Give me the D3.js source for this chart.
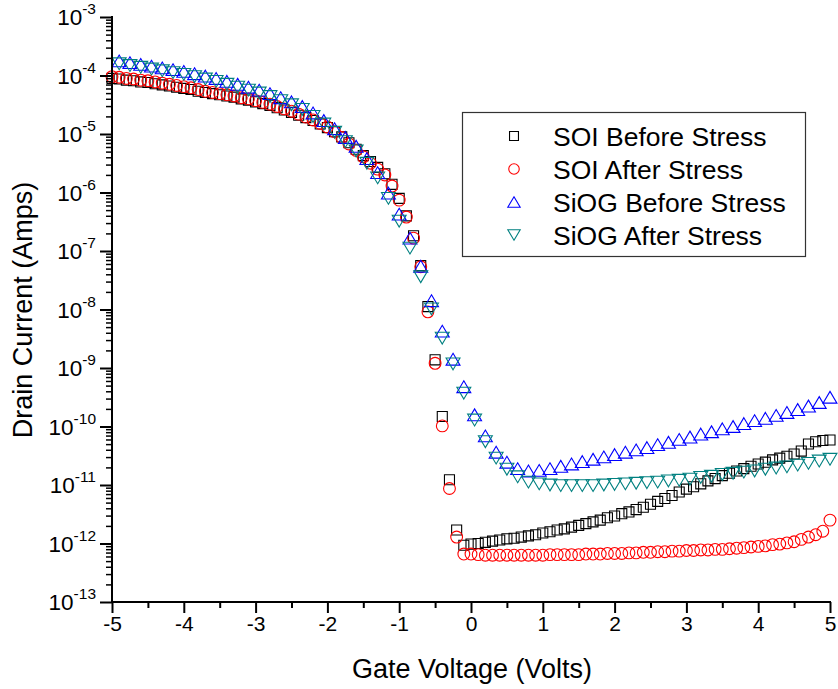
<!DOCTYPE html>
<html>
<head>
<meta charset="utf-8">
<script src="https://cdn.jsdelivr.net/npm/d3@7"></script>
<style>
  body { margin: 0; background: #fff; }
  svg { display: block; font-family: "Liberation Sans", Arial, sans-serif; }
</style>
</head>
<body>
<svg id="chart"></svg>
<script>
// gate sweeps (volts)
const soiVolts = d3.range(101).map(i => -5 + i * 0.1);
const siogVolts = d3.range(67).map(i => -4.9 + i * 0.15);

// drain current as log10(Amps)
const soiBeforeLog = [
  -4.05,-4.06,-4.08,-4.09,-4.11,-4.12,-4.14,-4.16,-4.18,-4.20,
  -4.22,-4.24,-4.27,-4.29,-4.31,-4.33,-4.35,-4.37,-4.40,-4.42,
  -4.45,-4.48,-4.51,-4.55,-4.59,-4.63,-4.68,-4.72,-4.77,-4.83,
  -4.89,-4.96,-5.05,-5.15,-5.26,-5.37,-5.47,-5.57,-5.68,-5.86,
  -6.10,-6.40,-6.74,-7.25,-7.95,-8.86,-9.83,-10.91,-11.77,-12.03,
  -12.01,-12.00,-11.98,-11.96,-11.94,-11.92,-11.91,-11.89,-11.87,-11.85,
  -11.82,-11.80,-11.77,-11.75,-11.72,-11.69,-11.66,-11.63,-11.60,-11.56,
  -11.53,-11.49,-11.46,-11.42,-11.38,-11.33,-11.28,-11.23,-11.18,-11.12,
  -11.07,-11.03,-10.98,-10.93,-10.89,-10.84,-10.80,-10.76,-10.72,-10.68,
  -10.64,-10.61,-10.57,-10.54,-10.51,-10.47,-10.42,-10.30,-10.26,-10.24,
  -10.23
];
const soiAfterLog = [
  -4.02,-4.03,-4.05,-4.06,-4.08,-4.09,-4.11,-4.13,-4.15,-4.17,
  -4.19,-4.21,-4.24,-4.27,-4.29,-4.31,-4.33,-4.35,-4.38,-4.40,
  -4.43,-4.46,-4.49,-4.53,-4.57,-4.61,-4.66,-4.71,-4.76,-4.82,
  -4.88,-4.96,-5.06,-5.17,-5.28,-5.39,-5.50,-5.60,-5.70,-5.89,
  -6.13,-6.42,-6.78,-7.27,-8.04,-8.92,-9.99,-11.06,-11.89,-12.18,
  -12.18,-12.19,-12.20,-12.20,-12.20,-12.20,-12.20,-12.20,-12.20,-12.20,
  -12.20,-12.19,-12.19,-12.19,-12.19,-12.19,-12.18,-12.18,-12.18,-12.17,
  -12.17,-12.17,-12.16,-12.16,-12.15,-12.15,-12.14,-12.14,-12.13,-12.13,
  -12.12,-12.12,-12.11,-12.11,-12.10,-12.10,-12.09,-12.08,-12.07,-12.06,
  -12.05,-12.04,-12.02,-12.01,-11.99,-11.97,-11.93,-11.89,-11.85,-11.79,
  -11.60
];
const siogBeforeLog = [
  -3.75,-3.78,-3.81,-3.84,-3.87,-3.90,-3.93,-3.97,-4.01,-4.05,
  -4.10,-4.15,-4.20,-4.25,-4.31,-4.38,-4.45,-4.53,-4.64,-4.77,
  -4.91,-5.06,-5.21,-5.42,-5.66,-6.01,-6.37,-6.78,-7.26,-7.85,
  -8.37,-8.85,-9.32,-9.80,-10.16,-10.44,-10.61,-10.72,-10.76,-10.75,
  -10.72,-10.68,-10.64,-10.60,-10.56,-10.52,-10.48,-10.44,-10.40,-10.36,
  -10.31,-10.27,-10.22,-10.18,-10.13,-10.09,-10.04,-10.00,-9.95,-9.90,
  -9.86,-9.81,-9.76,-9.71,-9.65,-9.59,-9.50
];
const siogAfterLog = [
  -3.80,-3.83,-3.86,-3.89,-3.92,-3.95,-3.98,-4.02,-4.06,-4.10,
  -4.15,-4.20,-4.25,-4.30,-4.36,-4.43,-4.50,-4.58,-4.70,-4.83,
  -4.97,-5.13,-5.29,-5.50,-5.75,-6.10,-6.49,-6.95,-7.44,-7.99,
  -8.49,-8.93,-9.43,-9.89,-10.26,-10.54,-10.73,-10.86,-10.95,-10.98,
  -11.00,-11.01,-11.01,-11.01,-11.01,-11.00,-10.99,-10.98,-10.97,-10.96,
  -10.95,-10.93,-10.92,-10.90,-10.87,-10.85,-10.82,-10.80,-10.78,-10.76,
  -10.73,-10.71,-10.69,-10.66,-10.63,-10.59,-10.56
];

const seriesNames = ["SOI Before Stress", "SOI After Stress", "SiOG Before Stress", "SiOG After Stress"];
const xTicks = [-5, -4, -3, -2, -1, 0, 1, 2, 3, 4, 5];
const yDecades = [-13, -12, -11, -10, -9, -8, -7, -6, -5, -4, -3];

var pixelWidth = 838;
var pixelHeight = 689;

var svg = d3.select("#chart")
    .attr("width", pixelWidth)
    .attr("height", pixelHeight);

var xScale = d3.scaleLinear().domain([-5, 5]).range([112, 830]);
var yScale = d3.scaleLog().domain([1e-13, 1e-3]).range([602, 17]);

function toPoints(volts, logs) {
    return volts.map((v, i) => ({ x: v, y: Math.pow(10, logs[i]) }));
}

const series = [
    { name: seriesNames[0], shape: "square",  color: "#000000", data: toPoints(soiVolts, soiBeforeLog) },
    { name: seriesNames[1], shape: "circle",  color: "#ff0000", data: toPoints(soiVolts, soiAfterLog) },
    { name: seriesNames[2], shape: "up",      color: "#0000ff", data: toPoints(siogVolts, siogBeforeLog) },
    { name: seriesNames[3], shape: "down",    color: "#008080", data: toPoints(siogVolts, siogAfterLog) }
];

// marker outlines, centred on their bounding box
function markerPath(shape, s) {
    var h = s / 2;
    var p = d3.path();
    if (shape == "square") {
        p.rect(-h * 0.85, -h * 0.85, s * 0.85, s * 0.85);
    } else if (shape == "circle") {
        p.moveTo(h, 0);
        p.arc(0, 0, h, 0, 2 * Math.PI);
    } else {
        var w = h * 1.18;
        if (shape == "up") { p.moveTo(0, -h); p.lineTo(w, h); p.lineTo(-w, h); }
        else { p.moveTo(0, h); p.lineTo(w, -h); p.lineTo(-w, -h); }
        p.closePath();
    }
    return p.toString();
}

var plot = svg.append("g");
series.forEach(s => {
    plot.append("g").selectAll("path")
        .data(s.data)
        .join("path")
        .attr("transform", d => "translate(" + xScale(d.x) + "," + yScale(d.y) + ")")
        .attr("d", markerPath(s.shape, 11.8))
        .attr("fill", "none")
        .attr("stroke", s.color)
        .attr("stroke-width", 1.1);
});

// x axis
var xAxis = d3.axisBottom(xScale).tickValues(xTicks).tickSize(11).tickFormat(d => String(d));
var gx = svg.append("g").attr("transform", "translate(0,602)").call(xAxis);
gx.select(".domain").attr("stroke-width", 2).attr("d", "M111,0H831");
gx.selectAll(".tick line").attr("stroke-width", 2);
gx.selectAll(".tick text").attr("font-size", 21).attr("font-family", "Liberation Sans, Arial, sans-serif").attr("fill", "#000").attr("y", 14).attr("dy", "0.71em");
var xMinor = d3.axisBottom(xScale).tickValues(d3.range(-4.5, 5, 1)).tickSize(6).tickFormat("");
var gxm = svg.append("g").attr("transform", "translate(0,602)").call(xMinor);
gxm.select(".domain").remove();
gxm.selectAll(".tick line").attr("stroke-width", 2);

// y axis with log minors
var yAxis = d3.axisLeft(yScale).tickValues(yDecades.map(e => Math.pow(10, e))).tickSize(12).tickFormat("");
var gy = svg.append("g").attr("transform", "translate(112,0)").call(yAxis);
gy.select(".domain").attr("stroke-width", 2).attr("d", "M0,16V603");
gy.selectAll(".tick line").attr("stroke-width", 2);
var minorVals = [];
yDecades.slice(0, -1).forEach(e => { for (var m = 2; m <= 9; m++) minorVals.push(m * Math.pow(10, e)); });
var yMinor = d3.axisLeft(yScale).tickValues(minorVals).tickSize(6).tickFormat("");
var gym = svg.append("g").attr("transform", "translate(112,0)").call(yMinor);
gym.select(".domain").remove();
gym.selectAll(".tick line").attr("stroke-width", 1.5);

yDecades.forEach(e => {
    var t = svg.append("text")
        .attr("x", 96)
        .attr("y", yScale(Math.pow(10, e)) + 8)
        .attr("text-anchor", "end")
        .attr("font-size", 22.5)
        .text("10");
    t.append("tspan").attr("dy", -11).attr("font-size", 15.5).text("-" + (-e));
});

// axis titles
svg.append("text")
    .attr("x", 472).attr("y", 678)
    .attr("text-anchor", "middle")
    .attr("font-size", 27)
    .text("Gate Voltage (Volts)");
svg.append("text")
    .attr("transform", "translate(32,310) rotate(-90)")
    .attr("text-anchor", "middle")
    .attr("font-size", 27)
    .text("Drain Current (Amps)");

// legend
var legend = svg.append("g");
legend.append("rect")
    .attr("x", 462.5).attr("y", 112.5)
    .attr("width", 343).attr("height", 144)
    .attr("fill", "#fff")
    .attr("stroke", "#333")
    .attr("stroke-width", 1.2);
var legendRows = [136, 169, 202, 235];
series.forEach((s, i) => {
    legend.append("path")
        .attr("transform", "translate(514," + legendRows[i] + ")")
        .attr("d", markerPath(s.shape, 10.5))
        .attr("fill", "none")
        .attr("stroke", s.color)
        .attr("stroke-width", 1.1);
    legend.append("text")
        .attr("x", 553).attr("y", legendRows[i] + 9.5)
        .attr("font-size", 26.5)
        .text(s.name);
});
</script>
</body>
</html>
